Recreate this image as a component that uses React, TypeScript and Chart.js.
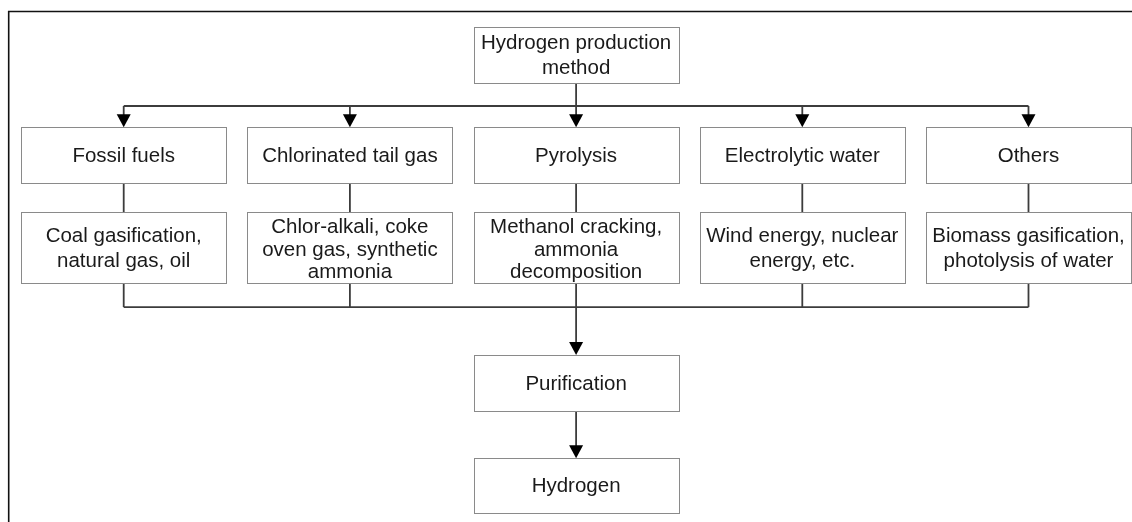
import React, { useEffect, useRef } from "react";
import { Chart, registerables } from "chart.js";

Chart.register(...registerables);

// ---- Diagram content (logical data) ----
const rootLabel = ["Hydrogen production", "method"];
const categories = [
  ["Fossil fuels"],
  ["Chlorinated tail gas"],
  ["Pyrolysis"],
  ["Electrolytic water"],
  ["Others"],
];
const methods = [
  ["Coal gasification,", "natural gas, oil"],
  ["Chlor-alkali, coke", "oven gas, synthetic", "ammonia"],
  ["Methanol cracking,", "ammonia", "decomposition"],
  ["Wind energy, nuclear", "energy, etc."],
  ["Biomass gasification,", "photolysis of water"],
];
const purificationLabel = ["Purification"];
const productLabel = ["Hydrogen"];
const columns = [0, 1, 2, 3, 4];
const centerColumn = 2;
// row positions on the diagram's vertical scale: root, category, method, purification, product
const levels = [0.553, 1.553, 2.478, 3.83, 4.858];

type Node = { x: number; y: number; lines: string[]; kind: string };

const nodes: Node[] = [
  { x: centerColumn, y: levels[0], lines: rootLabel, kind: "root" },
  ...columns.map((c) => ({ x: c, y: levels[1], lines: categories[c], kind: "cat" })),
  ...columns.map((c) => ({ x: c, y: levels[2], lines: methods[c], kind: "method" })),
  { x: centerColumn, y: levels[3], lines: purificationLabel, kind: "purif" },
  { x: centerColumn, y: levels[4], lines: productLabel, kind: "product" },
];

const BOX_W = 205;
const boxH = (kind: string) => (kind === "method" ? 71 : kind === "product" ? 55 : 56);
const FONT = '20.5px "Liberation Sans", Arial, sans-serif';
const LINE_COLOR = "#3c3c3c";
const BOX_BORDER = "#8a8a8a";
const TEXT_COLOR = "#1a1a1a";

const flowPlugin = {
  id: "flow",
  beforeDraw(chart: any) {
    const ctx = chart.ctx;
    ctx.save();
    ctx.fillStyle = "#ffffff";
    ctx.fillRect(0, 0, chart.width, chart.height);
    // outer frame (top and left)
    ctx.strokeStyle = "#111";
    ctx.lineWidth = 1.6;
    ctx.beginPath();
    ctx.moveTo(chart.width, 11.5);
    ctx.lineTo(8.7, 11.5);
    ctx.lineTo(8.7, chart.height);
    ctx.stroke();
    ctx.restore();
  },
  afterDatasetsDraw(chart: any) {
    const ctx = chart.ctx;
    const meta = chart.getDatasetMeta(0);
    const pts = meta.data.map((el: any, i: number) => ({
      cx: el.x,
      cy: el.y,
      h: boxH(nodes[i].kind),
      node: nodes[i],
    }));
    const byKind = (k: string) => pts.filter((p: any) => p.node.kind === k);
    const root = byKind("root")[0];
    const cats = byKind("cat");
    const meths = byKind("method");
    const purif = byKind("purif")[0];
    const prod = byKind("product")[0];
    const top = (p: any) => p.cy - p.h / 2;
    const bottom = (p: any) => p.cy + p.h / 2;

    ctx.save();
    const line = (x1: number, y1: number, x2: number, y2: number) => {
      ctx.strokeStyle = LINE_COLOR;
      ctx.lineWidth = 1.8;
      ctx.beginPath();
      ctx.moveTo(x1, y1);
      ctx.lineTo(x2, y2);
      ctx.stroke();
    };
    const arrow = (x: number, y1: number, y2: number) => {
      line(x, y1, x, y2 - 11);
      ctx.fillStyle = "#000";
      ctx.beginPath();
      ctx.moveTo(x - 7, y2 - 13);
      ctx.lineTo(x + 7, y2 - 13);
      ctx.lineTo(x, y2);
      ctx.closePath();
      ctx.fill();
    };

    // root -> categories
    const bus1 = bottom(root) + 22.7;
    line(root.cx, bottom(root), root.cx, bus1);
    line(cats[0].cx, bus1, cats[cats.length - 1].cx, bus1);
    cats.forEach((c: any) => arrow(c.cx, bus1, top(c)));
    // categories -> methods
    cats.forEach((c: any, i: number) => line(c.cx, bottom(c), meths[i].cx, top(meths[i])));
    // methods -> purification
    const bus2 = bottom(meths[0]) + 23.8;
    meths.forEach((m: any) => line(m.cx, bottom(m), m.cx, bus2));
    line(meths[0].cx, bus2, meths[meths.length - 1].cx, bus2);
    arrow(purif.cx, bus2, top(purif));
    // purification -> product
    arrow(prod.cx, bottom(purif), top(prod));

    // boxes and text
    pts.forEach((p: any) => {
      const x0 = Math.round(p.cx - BOX_W / 2) + 0.5;
      const y0 = Math.round(top(p)) + 0.5;
      ctx.fillStyle = "#fff";
      ctx.fillRect(x0, y0, BOX_W, p.h);
      ctx.strokeStyle = BOX_BORDER;
      ctx.lineWidth = 1;
      ctx.strokeRect(x0, y0, BOX_W, p.h);
      const lines: string[] = p.node.lines;
      const lh = lines.length >= 3 ? 22.7 : 25;
      const off = lines.length >= 3 ? 2.2 : 1;
      ctx.fillStyle = TEXT_COLOR;
      ctx.font = FONT;
      ctx.textAlign = "center";
      ctx.textBaseline = "middle";
      lines.forEach((t: string, i: number) => {
        const ty = p.cy + (i - (lines.length - 1) / 2) * lh + off;
        ctx.fillText(t, p.cx, ty);
      });
    });
    ctx.restore();
  },
};

export default function App() {
  const ref = useRef<HTMLCanvasElement | null>(null);
  useEffect(() => {
    if (!ref.current) return;
    const chart = new Chart(ref.current, {
      type: "scatter",
      data: {
        datasets: [
          {
            data: nodes.map((n) => ({ x: n.x, y: n.y })),
            pointRadius: 0,
            pointHoverRadius: 0,
          },
        ],
      },
      options: {
        responsive: false,
        maintainAspectRatio: false,
        animation: false,
        layout: { padding: 0 },
        plugins: { legend: { display: false }, tooltip: { enabled: false } },
        events: [],
        scales: {
          x: { type: "linear", min: -0.5469, max: 4.4576, display: false },
          y: { type: "linear", min: 0, max: 5.22, reverse: true, display: false },
        },
      },
      plugins: [flowPlugin],
    });
    return () => chart.destroy();
  }, []);
  return (
    <div style={{ position: "fixed", left: 0, top: 0, width: 1132, height: 522, background: "#fff" }}>
      <canvas ref={ref} width={1132} height={522} style={{ display: "block" }} />
    </div>
  );
}
